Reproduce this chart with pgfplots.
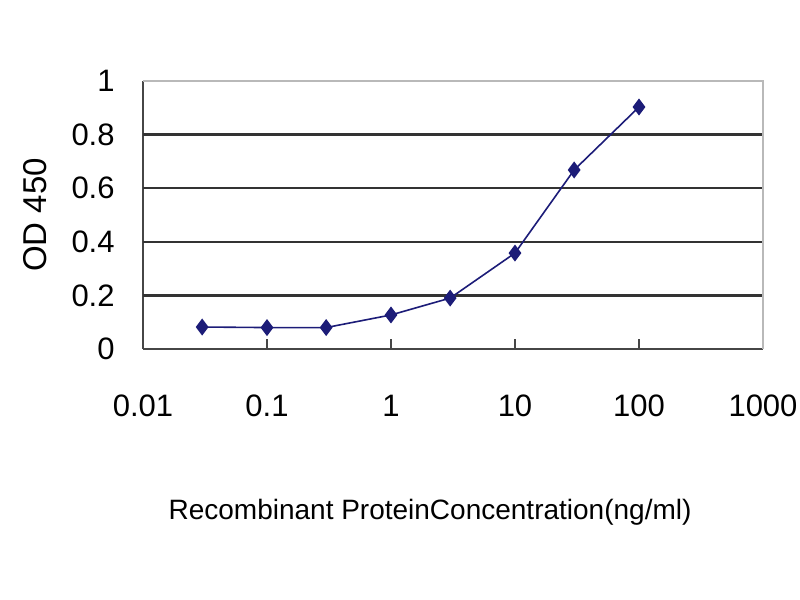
\documentclass[border=0pt]{standalone}
\usepackage{fontspec}
\setmainfont{Liberation Sans}
\usepackage{pgfplots}
\pgfplotsset{compat=1.18}
\definecolor{linenavy}{RGB}{28,28,120}
\definecolor{axdark}{RGB}{70,70,70}
\definecolor{axlight}{RGB}{185,185,185}
\begin{document}
\begin{tikzpicture}
\path[use as bounding box] (0,0) rectangle (400pt,300pt);
\begin{axis}[
  at={(71.5pt,125.5pt)}, anchor=south west,
  scale only axis, width=310pt, height=134pt,
  xmode=log, xmin=0.01, xmax=1000, ymin=0, ymax=1,
  axis x line*=bottom, axis y line*=left,
  axis line style={axdark, line width=1.3pt},
  every inner x axis line/.append style={-}, every inner y axis line/.append style={-},
  xtick={0.01,0.1,1,10,100,1000},
  xticklabels={0.01,0.1,1,10,100,1000},
  xminorticks=false, minor tick length=0pt,
  ytick={0,0.2,0.4,0.6,0.8,1},
  yticklabels={0,0.2,0.4,0.6,0.8,1},
  extra y ticks={0.2,0.4,0.6,0.8},
  extra y tick labels={},
  extra y tick style={ymajorgrids=true, major tick length=0pt,
    major grid style={black!80, line width=1.2pt}},
  x tick style={axdark, line width=0.8pt}, tick align=inside,
  xtick pos=bottom, major tick length=5pt,
  y tick style={draw=none},
  /pgf/number format/assume math mode=true,
  xticklabel style={font=\fontsize{15.5}{18}\selectfont, anchor=center, yshift=-28.5pt, inner sep=0pt},
  yticklabel style={font=\fontsize{15.5}{18}\selectfont, anchor=east, xshift=-14pt, inner sep=0pt},
  xlabel={Recombinant ProteinConcentration(ng/ml)},
  ylabel={OD 450},
  xlabel style={font=\fontsize{14}{16}\selectfont, at={(axis description cs:0.463,-0.608)}, anchor=center},
  ylabel style={font=\fontsize{16.5}{19}\selectfont, at={(axis description cs:-0.174,0.5)}, anchor=center, rotate=0},
  clip=false,
]
\draw[axlight, line width=1.3pt] (rel axis cs:0,1) -- (rel axis cs:1,1) -- (rel axis cs:1,0);
\addplot[linenavy, line width=0.8pt, mark=diamond*, mark size=3.6pt, mark options={fill=linenavy, draw=linenavy}]
  table {
x y
0.03 0.082
0.1 0.080
0.3 0.080
1 0.127
3 0.190
10 0.358
30 0.668
100 0.903
};
\end{axis}
\end{tikzpicture}
\end{document}
